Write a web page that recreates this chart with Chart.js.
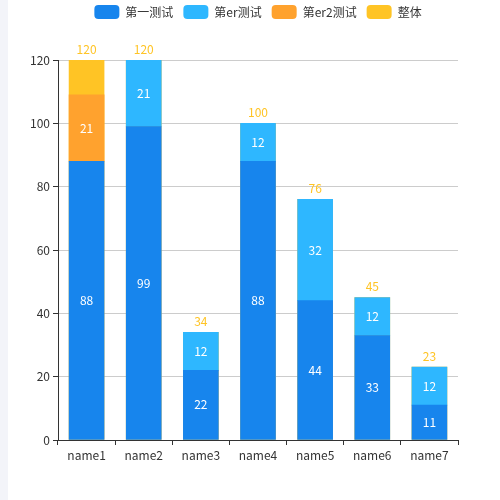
<!DOCTYPE html>
<html>
<head>
<meta charset="utf-8">
<script src="https://cdn.jsdelivr.net/npm/chart.js@4.4.1/dist/chart.umd.min.js"></script>
<style>
html, body { margin:0; padding:0; background:#fff; }
#wrap {
    position:relative;
    width:500px;
    height:500px;
    background:linear-gradient(to right, #f3f4f9 8px, #ffffff 8px);
}
</style>
</head>
<body>
<div id="wrap"><canvas id="barChart" width="500" height="500"></canvas></div>

<script>
/*====================================
            CHART DATA
====================================*/

const categories = ["name1","name2","name3","name4","name5","name6","name7"];

const seriesNames = ["第一测试","第er测试","第er2测试","整体"];

const firstTest = [88, 99, 22, 88, 44, 33, 11];

const erTest = [null, 21, 12, 12, 32, 12, 12];

const er2Test = [21, null, null, null, null, null, null];

const totals = [120, 120, 34, 100, 76, 45, 23];

const yTicks = [0, 20, 40, 60, 80, 100, 120];

const FONT = "'Noto Sans CJK SC', 'Microsoft YaHei', sans-serif";


/*====================================
        LABEL PLUGIN
====================================*/

const barLabels = {
    id:"barLabels",
    afterDatasetsDraw(chart){
        const ctx = chart.ctx;
        ctx.save();
        ctx.font = "12px " + FONT;
        ctx.textAlign = "center";
        chart.data.datasets.forEach((ds, i) => {
            const meta = chart.getDatasetMeta(i);
            meta.data.forEach((bar, j) => {
                const v = ds.data[j];
                if(v === null || v === undefined) return;
                if(ds.isTotal){
                    ctx.fillStyle = "#ffc425";
                    ctx.textBaseline = "bottom";
                    ctx.fillText(v, bar.x, bar.y - 5);
                } else {
                    ctx.fillStyle = "#ffffff";
                    ctx.textBaseline = "middle";
                    ctx.fillText(v, bar.x, (bar.y + bar.base) / 2);
                }
            });
        });
        ctx.restore();
    }
};

/* extra room under the legend */
const legendGap = {
    id:"legendGap",
    beforeInit(chart){
        const fit = chart.legend.fit;
        chart.legend.fit = function(){
            fit.bind(chart.legend)();
            this.height += 31;
        };
    }
};


/*====================================
            BAR CHART
====================================*/

const barChart = new Chart(

document.getElementById("barChart"),

{

type:"bar",

data:{
    labels:categories,
    datasets:[
        {
            label:seriesNames[0],
            data:firstTest,
            backgroundColor:"#1785ed",
            stack:"a",
            order:0
        },
        {
            label:seriesNames[1],
            data:erTest,
            backgroundColor:"#2eb7ff",
            stack:"a",
            order:0
        },
        {
            label:seriesNames[2],
            data:er2Test,
            backgroundColor:"#ffa22e",
            stack:"a",
            order:0
        },
        {
            label:seriesNames[3],
            data:totals,
            backgroundColor:"#ffc425",
            stack:"b",
            grouped:false,
            isTotal:true,
            order:1
        }
    ]
},

options:{

    responsive:false,
    animation:false,
    devicePixelRatio:1,

    datasets:{
        bar:{
            barThickness:35,
            borderWidth:0
        }
    },

    layout:{
        padding:{ left:16, right:0, top:-5, bottom:0 }
    },

    plugins:{
        legend:{
            position:"top",
            labels:{
                boxWidth:25,
                boxHeight:14,
                useBorderRadius:true,
                borderRadius:4,
                padding:10,
                color:"#333",
                font:{ family:FONT, size:12 }
            }
        },
        tooltip:{ enabled:false }
    },

    scales:{
        x:{
            stacked:true,
            offset:true,
            grid:{
                offset:true,
                drawOnChartArea:false,
                drawTicks:true,
                tickLength:5,
                tickColor:"#333"
            },
            border:{ color:"#333", width:1 },
            ticks:{
                color:"#333",
                padding:3,
                font:{ family:FONT, size:12 }
            },
            afterFit(s){ s.height = 60; }
        },
        y:{
            stacked:true,
            min:0,
            max:120,
            afterBuildTicks(s){
                s.ticks = yTicks.map(v => ({ value:v }));
            },
            grid:{
                color:"#cccccc",
                tickLength:5,
                tickColor:"#333"
            },
            border:{ color:"#333", width:1 },
            ticks:{
                color:"#333",
                padding:3,
                font:{ family:FONT, size:12 }
            },
            afterFit(s){ s.width = 42; }
        },
        y2:{
            position:"right",
            display:true,
            grid:{ display:false },
            border:{ display:false },
            ticks:{ display:false },
            afterFit(s){ s.width = 42; }
        }
    }

},

plugins:[barLabels, legendGap]

});
</script>
</body>
</html>
